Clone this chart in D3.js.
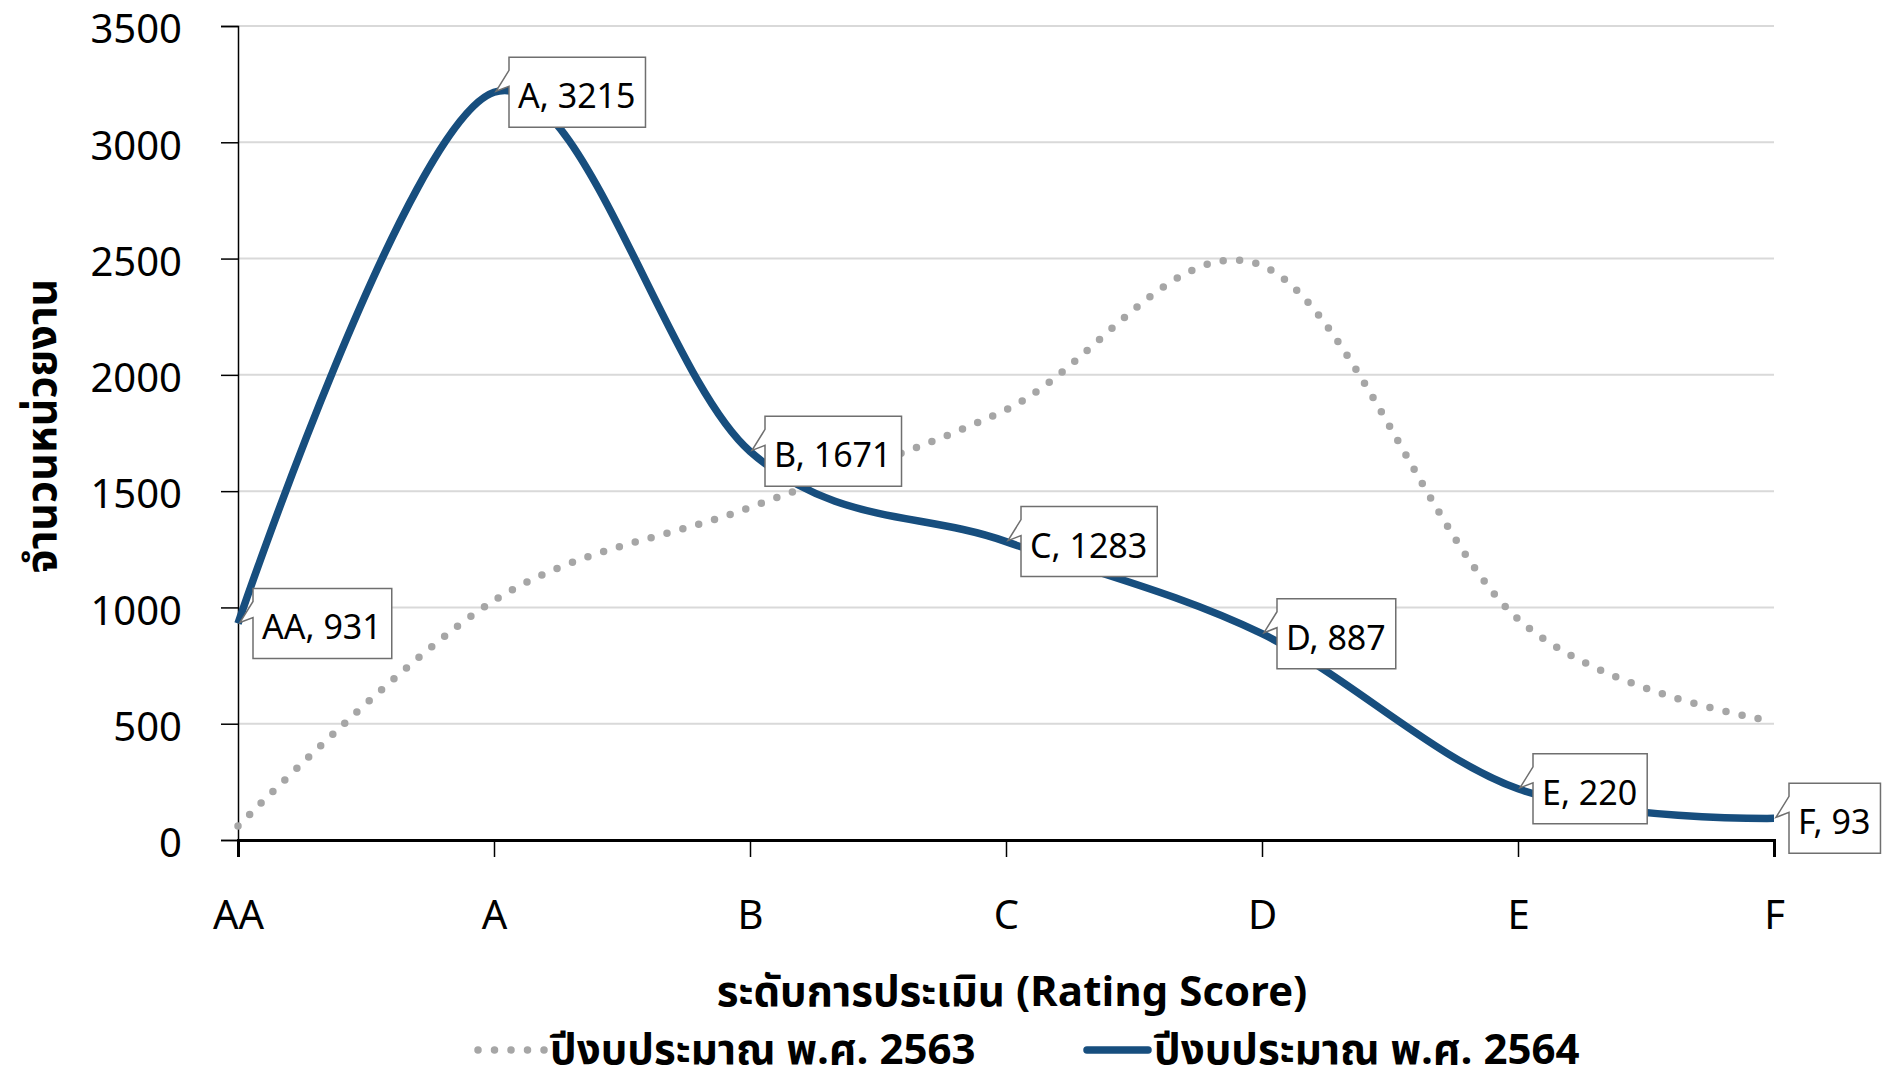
<!DOCTYPE html>
<html>
<head>
<meta charset="utf-8">
<script src="https://cdn.jsdelivr.net/npm/d3@7"></script>
<style>
  html, body { margin: 0; padding: 0; background: #fff; }
  svg text { font-family: "Noto Sans Thai", "Noto Sans", "Liberation Sans", sans-serif; fill: #000; }
</style>
</head>
<body>
<svg id="chart" width="1882" height="1088"></svg>
<script>
const categories = ["AA", "A", "B", "C", "D", "E", "F"];
const values2563 = [60, 1030, 1430, 1850, 2470, 950, 510];
const values2564 = [931, 3215, 1671, 1283, 887, 220, 93];
const yTicks = [0, 500, 1000, 1500, 2000, 2500, 3000, 3500];
const seriesNames = ["ปีงบประมาณ พ.ศ. 2563", "ปีงบประมาณ พ.ศ. 2564"];
const xTitle = "ระดับการประเมิน (Rating Score)";
const yTitle = "จำนวนหน่วยงาน";

const svg = d3.select("#chart");
const plotL = 238, plotR = 1774, plotT = 26, plotB = 840;
const x = d3.scalePoint().domain(categories).range([plotL, plotR]);
const y = d3.scaleLinear().domain([0, 3500]).range([plotB, plotT]);

const blue = "#174e7e";
const gray = "#a6a6a6";

// gridlines
svg.append("g")
  .selectAll("line")
  .data(yTicks.filter(d => d > 0))
  .join("line")
  .attr("x1", plotL).attr("x2", plotR)
  .attr("y1", d => y(d)).attr("y2", d => y(d))
  .attr("stroke", "#d9d9d9").attr("stroke-width", 2);

// y axis
const yAxis = svg.append("g")
  .attr("transform", `translate(${plotL},0)`)
  .call(d3.axisLeft(y).tickValues(yTicks).tickSize(17).tickPadding(39).tickFormat(d3.format("d")));
yAxis.select(".domain").attr("stroke", "#000").attr("stroke-width", 1.5);
yAxis.selectAll(".tick line").attr("stroke", "#000").attr("stroke-width", 1.5);
yAxis.selectAll(".tick text")
  .attr("font-size", 40).attr("dy", "0.42em").attr("fill", "#000")
  .style("font-family", "'Noto Sans', sans-serif");

// x axis
const xAxis = svg.append("g")
  .attr("transform", `translate(0,${plotB})`)
  .call(d3.axisBottom(x).tickSize(17).tickPadding(0));
xAxis.select(".domain").attr("stroke", "#000").attr("stroke-width", 3);
xAxis.selectAll(".tick line").attr("stroke", "#000").attr("stroke-width", 1.5);
xAxis.selectAll(".tick text")
  .attr("font-size", 40).attr("y", 89).attr("dy", 0).attr("fill", "#000")
  .style("font-family", "'Noto Sans', sans-serif");

// lines
const line = d3.line()
  .x((d, i) => x(categories[i]))
  .y(d => y(d))
  .curve(d3.curveCardinal.tension(0));

svg.append("path")
  .datum(values2563)
  .attr("d", line)
  .attr("fill", "none")
  .attr("stroke", gray)
  .attr("stroke-width", 7.5)
  .attr("stroke-linecap", "round")
  .attr("stroke-dasharray", "0 16.5");

svg.append("path")
  .datum(values2564)
  .attr("d", line)
  .attr("fill", "none")
  .attr("stroke", blue)
  .attr("stroke-width", 7.5)
  .attr("stroke-linejoin", "round");

// data callouts
const labels = svg.append("g");
categories.forEach((c, i) => {
  const px = x(c), py = y(values2564[i]);
  const g = labels.append("g");
  const path = g.append("path");
  const t = g.append("text")
    .attr("x", px + 24)
    .attr("y", py + 16)
    .attr("font-size", 34)
    .style("font-family", "'Noto Sans', sans-serif")
    .text(`${c}, ${values2564[i]}`);
  const w = t.node().getComputedTextLength();
  const bx = px + 15, bt = py - 35, bb = py + 35, br = bx + w + 19;
  path.attr("d", `M${bx},${bt} L${br},${bt} L${br},${bb} L${bx},${bb} L${bx},${py - 6} L${px + 2},${py - 1} L${bx},${py - 22} Z`)
    .attr("fill", "#fff").attr("stroke", "#6f6f6f").attr("stroke-width", 1.5);
});

// axis titles
svg.append("text")
  .attr("x", 1012).attr("y", 1006)
  .attr("text-anchor", "middle")
  .attr("font-size", 42).attr("font-weight", "bold")
  .text(xTitle);

svg.append("text")
  .attr("transform", "translate(56,426) rotate(-90)")
  .attr("text-anchor", "middle")
  .attr("font-size", 43).attr("font-weight", "bold")
  .text(yTitle);

// legend
const legendY = 1050;
const legendBase = 1064;
const leg = svg.append("g");
leg.append("line")
  .attr("x1", 478).attr("x2", 546).attr("y1", legendY).attr("y2", legendY)
  .attr("stroke", gray).attr("stroke-width", 7.5)
  .attr("stroke-linecap", "round").attr("stroke-dasharray", "0 16.5");
leg.append("text")
  .attr("x", 550).attr("y", legendBase)
  .attr("font-size", 42).attr("font-weight", "bold")
  .text(seriesNames[0]);
leg.append("line")
  .attr("x1", 1087).attr("x2", 1148).attr("y1", legendY).attr("y2", legendY)
  .attr("stroke", blue).attr("stroke-width", 7.5)
  .attr("stroke-linecap", "round");
leg.append("text")
  .attr("x", 1154).attr("y", legendBase)
  .attr("font-size", 42).attr("font-weight", "bold")
  .text(seriesNames[1]);
</script>
</body>
</html>
